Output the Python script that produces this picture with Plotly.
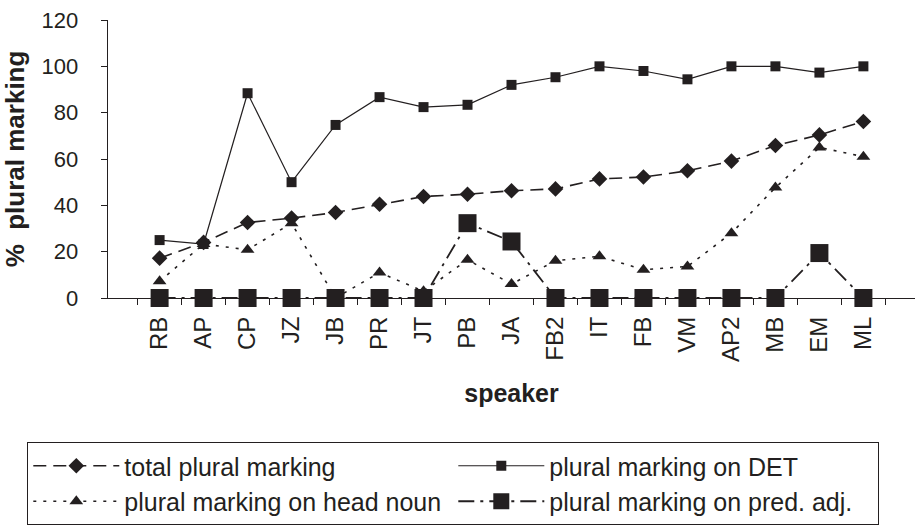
import plotly.graph_objects as go

speakers = ["RB", "AP", "CP", "JZ", "JB", "PR", "JT", "PB", "JA", "FB2", "IT", "FB", "VM", "AP2", "MB", "EM", "ML"]
total = [17.2, 24, 32.6, 34.5, 36.9, 40.5, 43.8, 44.8, 46.3, 47.1, 51.4, 52.2, 54.9, 59.1, 65.8, 70.4, 76.2]
det = [25, 23.3, 88.4, 50, 74.7, 86.7, 82.4, 83.4, 92, 95.3, 100, 98, 94.4, 100, 100, 97.3, 100]
head_noun = [7.2, 23.3, 20.8, 32.3, 0, 11, 2.9, 16.5, 6, 16.1, 18, 12.2, 13.6, 28, 47.7, 65, 61]
pred_adj = [0, 0, 0, 0, 0, 0, 0, 32.3, 24.4, 0, 0, 0, 0, 0, 0, 19.4, 0]

ink = "#231f20"
font_family = "Liberation Sans, Arial, sans-serif"

fig = go.Figure()
fig.add_trace(go.Scatter(
    x=speakers, y=total, name="total plural marking", mode="lines+markers",
    line=dict(color=ink, width=1.6, dash="13px,7px"),
    marker=dict(symbol="diamond", size=12, color=ink), cliponaxis=False))
fig.add_trace(go.Scatter(
    x=speakers, y=det, name="plural marking on DET", mode="lines+markers",
    line=dict(color=ink, width=1.2),
    marker=dict(symbol="square", size=10, color=ink), cliponaxis=False))
fig.add_trace(go.Scatter(
    x=speakers, y=head_noun, name="plural marking on head noun", mode="lines+markers",
    line=dict(color=ink, width=1.6, dash="3px,7px"),
    marker=dict(symbol="triangle-up", size=12, color=ink), cliponaxis=False))
fig.add_trace(go.Scatter(
    x=speakers, y=pred_adj, name="plural marking on pred. adj.", mode="lines+markers",
    line=dict(color=ink, width=1.8, dash="16px,6px,3px,6px"),
    marker=dict(symbol="square", size=18, color=ink), cliponaxis=False))

fig.update_layout(
    width=916, height=527,
    margin=dict(l=108, r=1, t=20, b=229),
    paper_bgcolor="white", plot_bgcolor="white",
    font=dict(family=font_family, size=24, color=ink),
    showlegend=True,
    legend=dict(
        orientation="h", x=-0.1, y=-0.518, xanchor="left", yanchor="top",
        entrywidth=324, entrywidthmode="pixels", itemwidth=86,
        bordercolor=ink, borderwidth=1, bgcolor="white",
        font=dict(family=font_family, size=25, color=ink),
        tracegroupgap=0,
    ),
)
fig.update_xaxes(
    type="category", showline=True, linecolor=ink, linewidth=1.2,
    ticks="outside", tickson="boundaries", ticklen=6, tickcolor=ink,
    tickangle=-90, showgrid=False, zeroline=False, automargin=False,
    ticklabelstandoff=8,
    tickfont=dict(size=24, color=ink),
    title=dict(text="<b>speaker</b>", font=dict(size=25, color=ink), standoff=23),
)
fig.update_yaxes(
    range=[0, 120], dtick=20, showline=True, linecolor=ink, linewidth=1.2,
    ticks="outside", ticklen=6, tickcolor=ink, showgrid=False, zeroline=False,
    automargin=False, ticksuffix="\u00a0\u00a0\u00a0",
    tickfont=dict(size=22, color=ink),
    title=dict(text="<b>%  plural marking</b>", font=dict(size=26, color=ink), standoff=11),
)

fig.write_html("out.html", config={"displayModeBar": False},
               post_script="document.body.style.margin='0';")
